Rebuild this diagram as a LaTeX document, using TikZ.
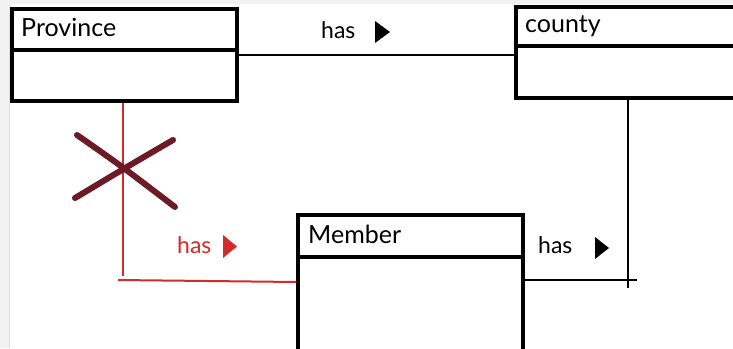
\documentclass[tikz,border=0pt]{standalone}
\usepackage{fontspec}
\setmainfont{Lato}
\definecolor{edgegray}{HTML}{F2F2F2}
\definecolor{redline}{HTML}{D42A2A}
\definecolor{xmark}{HTML}{6D1A26}
\tikzset{
  box/.style={draw=black, line width=3.2pt, rectangle, inner sep=0pt},
  divider/.style={draw=black, line width=3.2pt},
  title/.style={anchor=base west, font=\fontsize{25}{25}\selectfont, inner sep=0pt},
  lbl/.style={anchor=base west, font=\fontsize{23}{23}\selectfont, inner sep=0pt},
  conn/.style={draw=black, line width=2pt},
  redconn/.style={draw=redline, line width=2pt},
}
\begin{document}
\begin{tikzpicture}[x=1pt,y=-1pt]
\useasboundingbox (0,0) rectangle (733,348);
\fill[edgegray] (0,0) rectangle (733,348);
\fill[white] (9,4) rectangle (733,348);
\draw[black!12, line width=0.8pt] (9,4) -- (9,348);
% boxes
\node[box, minimum width=225pt, minimum height=92pt] (prov) at (124.5,55) {};
\draw[divider] (prov.west |- 0,50) -- (prov.east |- 0,50);
\node[title] (provt) at (21,36) {Province};
\node[box, minimum width=244pt, minimum height=91pt] (county) at (638,52.5) {};
\draw[divider] (county.west |- 0,46) -- (county.east |- 0,46);
\node[title] (countyt) at (525,32) {county};
\node[box, minimum width=225pt, minimum height=155pt] (member) at (410.5,292.5) {};
\draw[divider] (member.west |- 0,257) -- (member.east |- 0,257);
\node[title] (membert) at (308,243) {Member};
% connectors
\draw[conn] (prov.east) -- (prov.east -| county.west);
\coordinate (cdown) at (628,288);
\coordinate (mright) at (637,280);
\draw[conn] (county.south -| cdown) -- (cdown);
\draw[conn] (member.east |- mright) -- (mright);
% red connector
\coordinate (rcorner) at (123,276);
\coordinate (rstart) at (118,280);
\draw[redconn] (prov.south -| rcorner) -- (rcorner);
\draw[redconn] (rstart) -- (member.west |- 0,282);
% X
\draw[xmark, line width=6pt, line cap=round] (77,135) .. controls (120,165) .. (175,207);
\draw[xmark, line width=6pt, line cap=round] (75,198) .. controls (125,168) .. (173,140);
% labels
\node[lbl] (has1) at (321,38) {has};
\fill[black] (375,21) -- (390,32) -- (375,43) -- cycle;
\node[lbl] (has2) at (538,253) {has};
\fill[black] (595,237) -- (609,248) -- (595,259) -- cycle;
\node[lbl, text=redline] (has3) at (177,253) {has};
\fill[redline] (223,235) -- (237,246.5) -- (223,258) -- cycle;
\end{tikzpicture}
\end{document}
